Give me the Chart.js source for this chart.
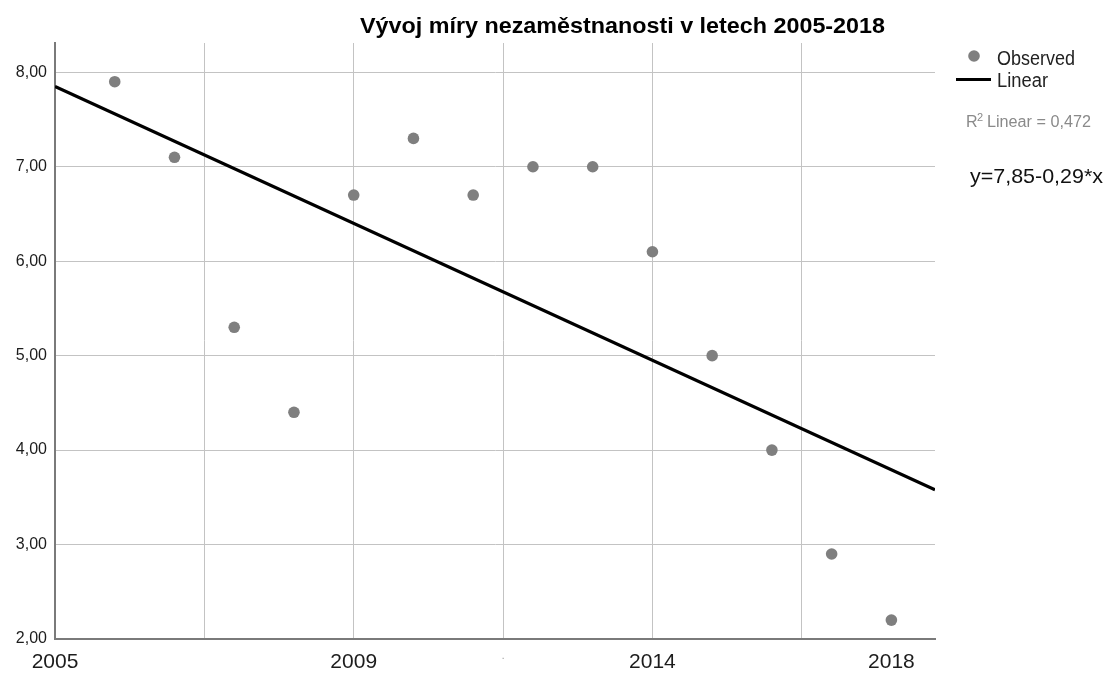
<!DOCTYPE html>
<html>
<head>
<meta charset="utf-8">
<script src="https://cdn.jsdelivr.net/npm/chart.js@4.4.1/dist/chart.umd.min.js"></script>
<style>
  html, body { margin: 0; padding: 0; background: #ffffff; }
  #wrap { width: 1107px; height: 674px; position: relative; }
</style>
</head>
<body>
<div id="wrap"><canvas id="c" width="1107" height="674"></canvas></div>
<script>
// ---- data ----
const chartTitle = 'Vývoj míry nezaměstnanosti v letech 2005-2018';
const years = [2005, 2006, 2007, 2008, 2009, 2010, 2011, 2012, 2013, 2014, 2015, 2016, 2017, 2018];
const xPositions = [1, 2, 3, 4, 5, 6, 7, 8, 9, 10, 11, 12, 13, 14];
const unemployment = [7.9, 7.1, 5.3, 4.4, 6.7, 7.3, 6.7, 7.0, 7.0, 6.1, 5.0, 4.0, 2.9, 2.2];
const fitX = [0, 14.73];
const fitY = [7.85, 3.58];
const xTickValues = [0, 2.5, 5, 7.5, 10, 12.5, 14];
const xTickLabels = ['2005', '', '2009', '.', '2014', '', '2018'];
const yTickValues = [2, 3, 4, 5, 6, 7, 8];
const xRange = [0, 14.73];
const yRange = [2, 8.31];
const legendLabels = ['Observed', 'Linear'];
const r2Label = 'Linear = 0,472';
const equationLabel = 'y=7,85-0,29*x';

const FONT = '"Liberation Sans", Arial, sans-serif';
const POINT_COLOR = '#7f7f7f';

function drawFitText(ctx, text, x, y, font, color, targetWidth) {
  ctx.save();
  ctx.font = font;
  ctx.fillStyle = color;
  ctx.textAlign = 'left';
  ctx.textBaseline = 'alphabetic';
  const w = ctx.measureText(text).width;
  ctx.translate(x, y);
  if (targetWidth) ctx.scale(targetWidth / w, 1);
  ctx.fillText(text, 0, 0);
  ctx.restore();
}

const sidePlugin = {
  id: 'side',
  afterDraw(chart) {
    const ctx = chart.ctx;
    // title
    drawFitText(ctx, chartTitle, 360, 33, 'bold 22px ' + FONT, '#000000', 525);
    // legend: observed
    ctx.save();
    ctx.fillStyle = POINT_COLOR;
    ctx.beginPath();
    ctx.arc(974, 56, 5.8, 0, Math.PI * 2);
    ctx.fill();
    ctx.strokeStyle = '#000000';
    ctx.lineWidth = 3;
    ctx.beginPath();
    ctx.moveTo(956, 79.5);
    ctx.lineTo(991, 79.5);
    ctx.stroke();
    ctx.restore();
    drawFitText(ctx, legendLabels[0], 997, 65, '20px ' + FONT, '#222222', 78);
    drawFitText(ctx, legendLabels[1], 997, 87, '20px ' + FONT, '#222222', 51);
    // R^2
    drawFitText(ctx, 'R', 966, 127, '16px ' + FONT, '#8a8a8a', null);
    drawFitText(ctx, '2', 977, 121, '11px ' + FONT, '#8a8a8a', null);
    drawFitText(ctx, r2Label, 987, 127, '16px ' + FONT, '#8a8a8a', 104);
    // equation
    drawFitText(ctx, equationLabel, 970, 183, '21px ' + FONT, '#111111', 133);
  }
};

new Chart(document.getElementById('c'), {
  data: {
    datasets: [
      {
        type: 'line',
        label: legendLabels[1],
        data: fitX.map((x, i) => ({ x: x, y: fitY[i] })),
        borderColor: '#000000',
        borderWidth: 3.2,
        pointRadius: 0,
        fill: false,
        tension: 0,
        order: 1
      },
      {
        type: 'scatter',
        label: legendLabels[0],
        data: xPositions.map((x, i) => ({ x: x, y: unemployment[i] })),
        backgroundColor: POINT_COLOR,
        borderWidth: 0,
        pointRadius: 5.8,
        order: 2
      }
    ]
  },
  options: {
    responsive: false,
    animation: false,
    layout: { padding: { top: 43, right: 172, bottom: 0, left: 0 } },
    plugins: {
      legend: { display: false },
      title: { display: false },
      tooltip: { enabled: false }
    },
    scales: {
      x: {
        type: 'linear',
        min: xRange[0],
        max: xRange[1],
        afterBuildTicks: (scale) => { scale.ticks = xTickValues.map(v => ({ value: v })); },
        afterFit: (scale) => { scale.height = 35; },
        ticks: {
          autoSkip: false,
          maxRotation: 0,
          padding: 11,
          color: (ctx) => xTickLabels[ctx.index] === '.' ? '#999999' : '#1c1c1c',
          font: (ctx) => ({ family: FONT, size: xTickLabels[ctx.index] === '.' ? 10 : 21 }),
          callback: (value) => {
            const i = xTickValues.indexOf(value);
            return i >= 0 ? xTickLabels[i] : '';
          }
        },
        grid: {
          drawTicks: false,
          lineWidth: 1,
          color: (ctx) => (ctx.tick && (ctx.tick.value % 2.5 === 0)) ? '#c3c3c3' : 'rgba(0,0,0,0)'
        },
        border: { display: true, color: '#7a7a7a', width: 2 }
      },
      y: {
        type: 'linear',
        min: yRange[0],
        max: yRange[1],
        afterBuildTicks: (scale) => { scale.ticks = yTickValues.map(v => ({ value: v })); },
        afterFit: (scale) => { scale.width = 55; },
        ticks: {
          padding: 8,
          color: '#1c1c1c',
          font: { family: FONT, size: 16 },
          callback: (value) => value.toFixed(2).replace('.', ',')
        },
        grid: {
          drawTicks: false,
          lineWidth: 1,
          color: '#c3c3c3'
        },
        border: { display: true, color: '#7a7a7a', width: 2 }
      }
    }
  },
  plugins: [sidePlugin]
});
</script>
</body>
</html>
